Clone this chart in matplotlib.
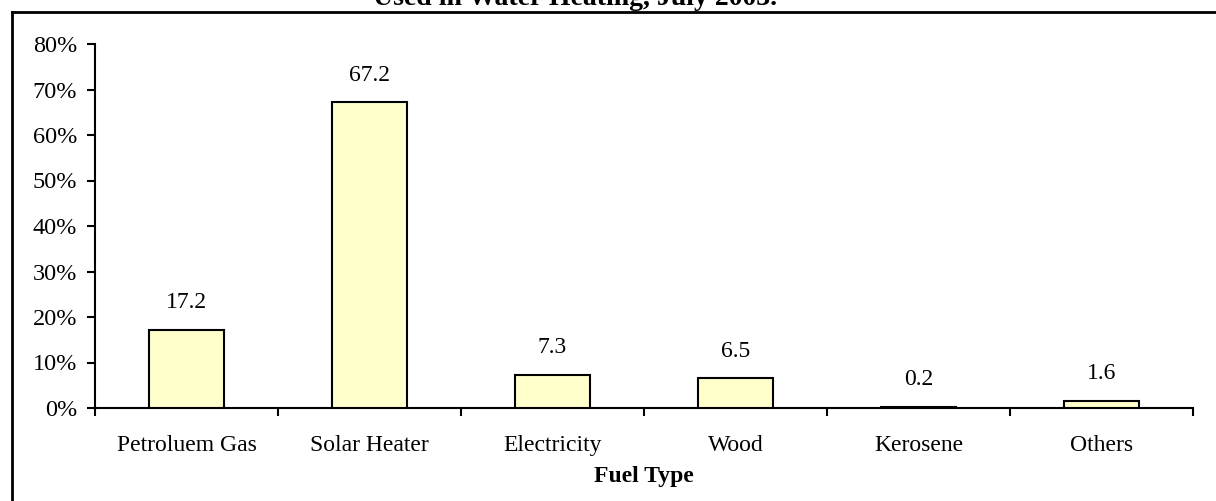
import matplotlib
matplotlib.use("Agg")
import matplotlib.pyplot as plt
from matplotlib.lines import Line2D
from matplotlib.ticker import FixedLocator, PercentFormatter

categories = ["Petroluem Gas", "Solar Heater", "Electricity", "Wood", "Kerosene", "Others"]
values = [17.2, 67.2, 7.3, 6.5, 0.2, 1.6]
yticks = [0, 10, 20, 30, 40, 50, 60, 70, 80]

plt.rcParams['font.family'] = ['Liberation Serif', 'DejaVu Serif']
FS = 17

fig = plt.figure(figsize=(12.16, 5.01), dpi=100)
ax = fig.add_axes([95/1216, 1-408/501, (1193-95)/1216, (408-44)/501])

x = list(range(len(categories)))
ax.bar(x, values, width=0.41, color="#FFFFCC", edgecolor="black", linewidth=1.5, zorder=3)
for xi, v in zip(x, values):
    ax.annotate(f"{v:.1f}", (xi, v), xytext=(0, 12), textcoords="offset points",
                ha="center", va="bottom", fontsize=FS)

ax.set_xlim(-0.5, len(categories) - 0.5)
ax.set_ylim(0, 80)
ax.set_yticks(yticks)
ax.yaxis.set_major_formatter(PercentFormatter(decimals=0))
ax.set_xticks(x)
ax.set_xticklabels(categories)
ax.xaxis.set_minor_locator(FixedLocator([i - 0.5 for i in range(len(categories) + 1)]))
ax.tick_params(axis="x", which="major", length=0, pad=19.5, labelsize=FS)
ax.tick_params(axis="x", which="minor", length=6, width=1.5, direction="out")
ax.tick_params(axis="y", length=6, width=1.5, direction="out", labelsize=17.5, pad=7)
for s in ["top", "right"]:
    ax.spines[s].set_visible(False)
for s in ["left", "bottom"]:
    ax.spines[s].set_linewidth(1.5)
ax.set_xlabel("Fuel Type", fontweight="bold", fontsize=FS, labelpad=7)

# frame lines (top and left edges of chart border)
fig.add_artist(Line2D([12/1216, 1], [1-12/501, 1-12/501], color="black", linewidth=2, transform=fig.transFigure))
fig.add_artist(Line2D([12/1216, 12/1216], [0, 1-12/501], color="black", linewidth=2, transform=fig.transFigure))

fig.text(575/1216, 1-5/501, "Used in Water Heating, July 2003.", ha="center", va="baseline",
         fontsize=20, fontweight="bold")

fig.savefig("out.png", dpi=100)
